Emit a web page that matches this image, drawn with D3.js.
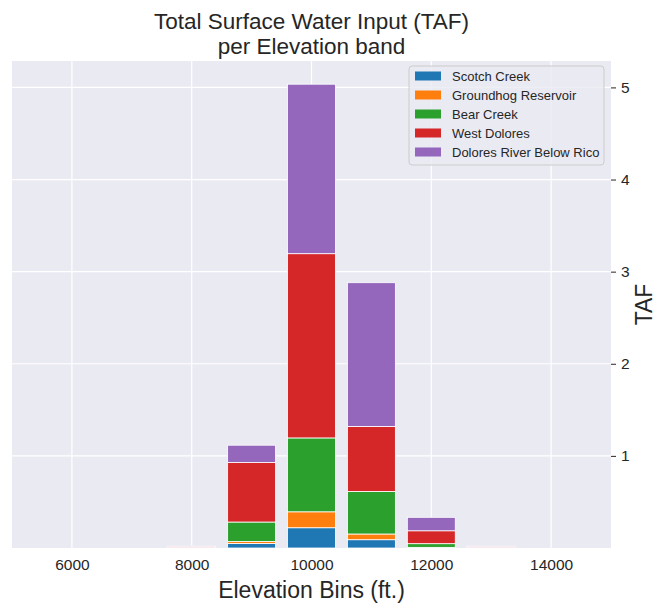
<!DOCTYPE html>
<html>
<head>
<meta charset="utf-8">
<script src="https://cdn.jsdelivr.net/npm/d3@7"></script>
<style>
  body { margin: 0; background: #fff; }
  text { font-family: "Liberation Sans", Arial, sans-serif; fill: #262626; }
</style>
</head>
<body>
<svg id="chart"></svg>
<script>
// Elevation bins (ft.) and the stacked inputs (TAF) per source
const bins = [8000, 9000, 10000, 11000, 12000, 13000];
const sources = ["Scotch Creek", "Groundhog Reservoir", "Bear Creek", "West Dolores", "Dolores River Below Rico"];
const scotchCreek = [0.002, 0.05, 0.22, 0.09, 0.004, 0.002];
const groundhogReservoir = [0.001, 0.02, 0.173, 0.062, 0.003, 0.001];
const bearCreek = [0.003, 0.212, 0.802, 0.462, 0.04, 0.003];
const westDolores = [0.012, 0.646, 2.0, 0.706, 0.14, 0.012];
const doloresBelowRico = [0.006, 0.188, 1.84, 1.56, 0.146, 0.006];
const colors = ["#1f77b4", "#ff7f0e", "#2ca02c", "#d62728", "#9467bd"];
const xTicks = [6000, 8000, 10000, 12000, 14000];
const yTicks = [1, 2, 3, 4, 5];

const width = 665, height = 605;
const margin = { top: 61, right: 54, bottom: 57, left: 12 };

const svg = d3.select("#chart").attr("width", width).attr("height", height);

// build rows for the stack
const series = [scotchCreek, groundhogReservoir, bearCreek, westDolores, doloresBelowRico];
const rows = bins.map((b, i) => {
  const r = { bin: b };
  sources.forEach((s, j) => r[s] = series[j][i]);
  return r;
});
const stacked = d3.stack().keys(sources)(rows);
const maxTotal = d3.max(rows, r => d3.sum(sources, s => r[s]));

const x = d3.scaleLinear().domain([5000, 15000]).range([margin.left, width - margin.right]);
const y = d3.scaleLinear().domain([0, maxTotal * 1.05]).range([height - margin.bottom, margin.top]);

// axes background
svg.append("rect")
  .attr("x", margin.left).attr("y", margin.top)
  .attr("width", width - margin.left - margin.right)
  .attr("height", height - margin.top - margin.bottom)
  .attr("fill", "#eaeaf2");

// grid
svg.append("g").selectAll("line").data(xTicks).join("line")
  .attr("x1", d => x(d)).attr("x2", d => x(d))
  .attr("y1", margin.top).attr("y2", height - margin.bottom)
  .attr("stroke", "#fff").attr("stroke-width", 1.2);
svg.append("g").selectAll("line").data(yTicks).join("line")
  .attr("x1", margin.left).attr("x2", width - margin.right)
  .attr("y1", d => y(d)).attr("y2", d => y(d))
  .attr("stroke", "#fff").attr("stroke-width", 1.2);

// bars
const barW = x(5800) - x(5000);
svg.append("g").selectAll("g").data(stacked).join("g")
  .attr("fill", (d, i) => colors[i])
  .selectAll("rect").data(d => d).join("rect")
  .attr("x", d => x(d.data.bin) - barW / 2)
  .attr("width", barW)
  .attr("y", d => y(d[1]))
  .attr("height", d => y(d[0]) - y(d[1]))
  .attr("stroke", "#fff").attr("stroke-width", 0.8);

// x axis
const xAxis = svg.append("g")
  .attr("transform", `translate(0,${height - margin.bottom})`)
  .call(d3.axisBottom(x).tickValues(xTicks).tickSize(0).tickPadding(11).tickFormat(d3.format("d")));
xAxis.select(".domain").remove();
xAxis.selectAll("text").style("font-size", "15.5px").style("fill", "#262626");

// y axis on the right
const yAxis = svg.append("g")
  .attr("transform", `translate(${width - margin.right},0)`)
  .call(d3.axisRight(y).tickValues(yTicks).tickSize(5).tickPadding(5).tickFormat(d3.format("d")));
yAxis.select(".domain").remove();
yAxis.selectAll("line").attr("stroke", "#262626").attr("stroke-width", 1);
yAxis.selectAll("text").style("font-size", "15.5px").style("fill", "#262626");

// labels
svg.append("text")
  .attr("x", x(10000)).attr("y", 598)
  .attr("text-anchor", "middle").style("font-size", "23px")
  .text("Elevation Bins (ft.)");
svg.append("text")
  .attr("transform", `translate(652,${(margin.top + height - margin.bottom) / 2}) rotate(-90)`)
  .attr("text-anchor", "middle").style("font-size", "23px")
  .text("TAF");
svg.append("text")
  .attr("x", x(10000)).attr("y", 29)
  .attr("text-anchor", "middle").style("font-size", "22.5px")
  .text("Total Surface Water Input (TAF)");
svg.append("text")
  .attr("x", x(10000)).attr("y", 54)
  .attr("text-anchor", "middle").style("font-size", "22.5px")
  .text("per Elevation band");

// legend
const legend = svg.append("g").attr("transform", "translate(409,66)");
legend.append("rect")
  .attr("width", 195).attr("height", 99).attr("rx", 3)
  .attr("fill", "#eaeaf2").attr("fill-opacity", 0.8)
  .attr("stroke", "#cccccc").attr("stroke-width", 1);
const items = legend.selectAll("g").data(sources).join("g")
  .attr("transform", (d, i) => `translate(6,${10 + i * 19})`);
items.append("rect")
  .attr("width", 26).attr("height", 9).attr("y", -4.5)
  .attr("fill", (d, i) => colors[i]);
items.append("text")
  .attr("x", 37).attr("y", 4.5)
  .style("font-size", "13px")
  .text(d => d);
</script>
</body>
</html>
